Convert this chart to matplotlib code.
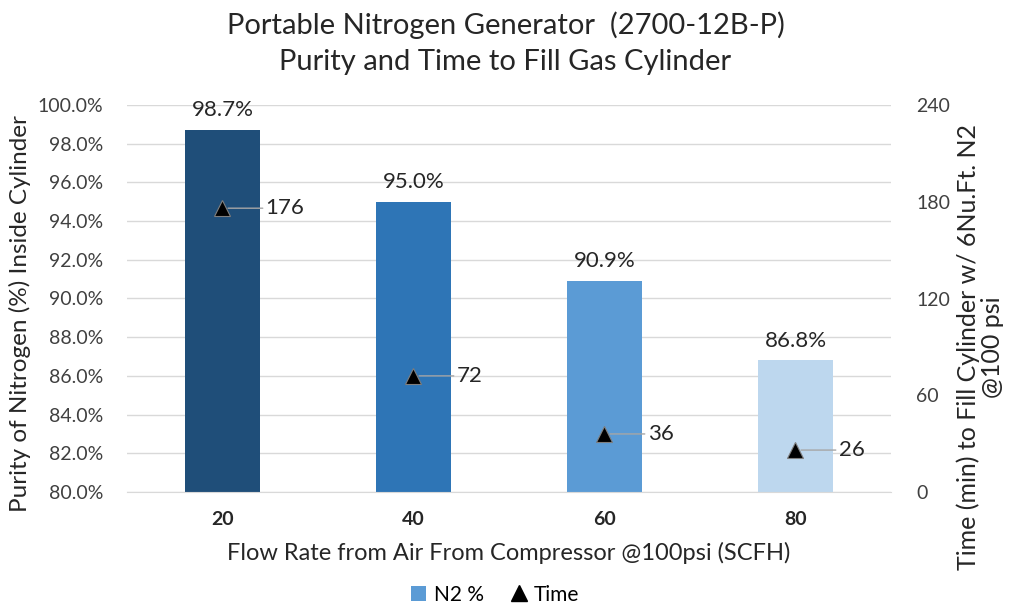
import matplotlib
matplotlib.use("Agg")
import matplotlib.pyplot as plt
from matplotlib.ticker import FuncFormatter, MultipleLocator
from matplotlib.lines import Line2D
from matplotlib.patches import Patch

plt.rcParams['font.family'] = ['Lato', 'DejaVu Sans']

categories = ["20", "40", "60", "80"]
purity = [98.7, 95.0, 90.9, 86.8]
times = [176, 72, 36, 26]
bar_colors = ["#1f4e79", "#2e75b6", "#5b9bd5", "#bdd7ee"]

fig = plt.figure(figsize=(10.11, 6.08), dpi=100)
ax = fig.add_axes([127/1011, 116/608, 764/1011, 387/608])
x = list(range(len(categories)))

ax.bar(x, purity, width=0.39, color=bar_colors, zorder=2)
ax.set_ylim(80, 100)
ax.set_xlim(-0.5, 3.5)
ax.yaxis.set_major_locator(MultipleLocator(2))
ax.yaxis.set_major_formatter(FuncFormatter(lambda v, p: f"{v:.1f}%"))
ax.grid(axis='y', color='#d9d9d9', linewidth=1, zorder=0)
ax.set_axisbelow(True)
for s in ['top', 'left', 'right']:
    ax.spines[s].set_visible(False)
ax.spines['bottom'].set_color('#d9d9d9')
ax.tick_params(axis='y', length=0, labelsize=14, colors='#404040', pad=17)
ax.tick_params(axis='x', length=0, labelsize=14, pad=14)
ax.set_xticks(x)
ax.set_xticklabels(categories, fontweight='bold', color='#262626')
for v, xi in zip(purity, x):
    ax.text(xi, v + 0.5, f"{v:.1f}%", ha='center', va='bottom', fontsize=16, color='#262626')

ax.set_ylabel("Purity of Nitrogen (%) Inside Cylinder", fontsize=17.5, color='#262626')
ax.yaxis.set_label_coords(-0.125, 0.46)
ax.set_xlabel("Flow Rate from Air From Compressor @100psi (SCFH)", fontsize=17, color='#262626')
ax.xaxis.set_label_coords(0.5, -0.128)

ax2 = ax.twinx()
ax2.set_ylim(0, 240)
ax2.yaxis.set_major_locator(MultipleLocator(60))
for s in ['top', 'left', 'right', 'bottom']:
    ax2.spines[s].set_visible(False)
ax2.tick_params(axis='y', length=0, labelsize=14, colors='#404040', pad=18)
ax2.plot(x, times, linestyle='none', marker='^', markersize=12, color='black',
         markeredgecolor='#7f7f7f', markeredgewidth=0.8, zorder=4)
for t, xi in zip(times, x):
    ax2.annotate(str(t), xy=(xi, t), xytext=(31, 0), textcoords='offset points',
                 ha='left', va='center', fontsize=16, color='#262626',
                 arrowprops=dict(arrowstyle='-', color='#a6a6a6', lw=1, shrinkA=0, shrinkB=4))
ax2.set_ylabel("Time (min) to Fill Cylinder w/ 6Nu.Ft. N2\n@100 psi", fontsize=18,
               color='#262626', linespacing=1.05)
ax2.yaxis.set_label_coords(1.086, 0.375)

fig.suptitle("Portable Nitrogen Generator  (2700-12B-P)\nPurity and Time to Fill Gas Cylinder",
             y=0.982, fontsize=21, color='#262626', linespacing=1.5)

handles = [Patch(facecolor="#5b9bd5", label="N2 %"),
           Line2D([], [], linestyle='none', marker='^', color='black', markersize=11, label="Time")]
fig.legend(handles=handles, loc='center', bbox_to_anchor=(0.49, 0.022), ncol=2, frameon=False,
           fontsize=15, handlelength=0.7, handletextpad=0.4, columnspacing=1.3)

fig.savefig("out.png", dpi=100, facecolor='white')
